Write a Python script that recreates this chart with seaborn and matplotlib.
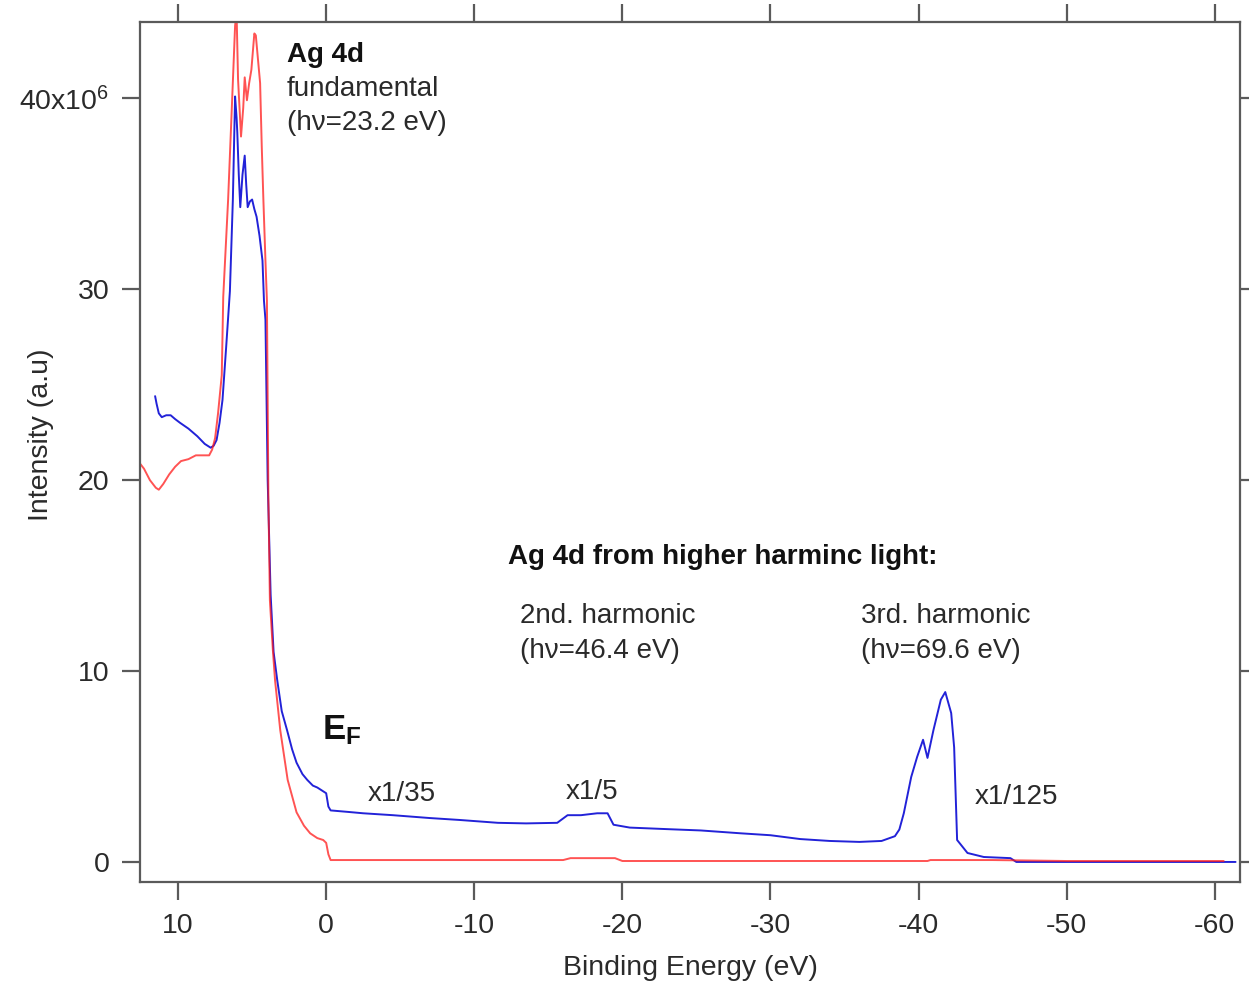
import numpy as np
import pandas as pd
import matplotlib
matplotlib.use("Agg")
import matplotlib.pyplot as plt
import seaborn as sns
from matplotlib.ticker import FixedLocator, FuncFormatter

# ---------------- data ----------------
red_x = [12.6, 12.3, 11.9, 11.5, 11.3, 11.0, 10.6, 10.2, 9.8, 9.3, 8.8, 8.3, 7.9, 7.7,
         7.5, 7.3, 7.05, 6.95, 6.62, 6.35, 6.15, 6.05, 5.95, 5.75, 5.6, 5.5, 5.35, 5.2,
         5.05, 4.85, 4.75, 4.6, 4.46, 4.35, 4.24, 4.1, 4.0, 3.9, 3.8, 3.6, 3.45, 3.1,
         2.6, 2.0, 1.5, 1.08, 0.6, 0.2, 0.0, -0.15, -0.3, -5.0, -10.0, -16.0, -16.5,
         -19.5, -20.0, -25.0, -30.0, -35.0, -40.6, -40.8, -45.0, -50.0, -55.0, -60.6]
red_y = [20.9, 20.6, 20.0, 19.6, 19.5, 19.8, 20.3, 20.7, 21.0, 21.1, 21.3, 21.3, 21.3, 21.6,
         22.2, 23.5, 25.5, 29.6, 34.7, 39.9, 43.8, 44.5, 41.0, 38.0, 39.5, 41.1, 39.9, 40.8,
         41.5, 43.4, 43.3, 42.0, 40.8, 37.5, 34.7, 31.5, 29.4, 19.0, 13.7, 11.1, 9.5, 6.9,
         4.3, 2.6, 1.9, 1.5, 1.25, 1.15, 1.0, 0.4, 0.1, 0.1, 0.1, 0.1, 0.2,
         0.2, 0.05, 0.05, 0.05, 0.05, 0.05, 0.1, 0.1, 0.05, 0.05, 0.05]

blue_x = [11.55, 11.45, 11.3, 11.1, 10.8, 10.5, 10.2, 9.86, 9.3, 8.7, 8.2, 7.8, 7.6, 7.4,
          7.2, 7.0, 6.75, 6.5, 6.3, 6.15, 6.05, 6.0, 5.9, 5.8, 5.65, 5.5, 5.4, 5.3, 5.15,
          5.0, 4.85, 4.7, 4.5, 4.3, 4.2, 4.1, 3.95, 3.75, 3.55, 3.3, 3.0, 2.64, 2.3, 2.0,
          1.6, 1.28, 0.9, 0.6, 0.2, 0.0, -0.15, -0.3, -1.5, -2.5, -4.5, -7.0, -9.0, -11.6,
          -13.5, -15.6, -16.3, -17.2, -18.3, -19.0, -19.4, -20.5, -23.0, -25.3, -28.0,
          -30.0, -32.0, -34.0, -36.0, -37.5, -38.4, -38.7, -39.0, -39.5, -39.9, -40.3,
          -40.6, -41.0, -41.5, -41.8, -42.2, -42.4, -42.6, -43.3, -44.4, -46.2, -46.6, -61.4]
blue_y = [24.4, 24.0, 23.5, 23.3, 23.4, 23.4, 23.2, 23.0, 22.7, 22.3, 21.9, 21.7, 21.8, 22.1,
          23.0, 24.2, 27.0, 29.9, 34.7, 40.1, 39.0, 38.2, 36.0, 34.3, 36.0, 37.0, 35.5, 34.3, 34.6,
          34.7, 34.2, 33.8, 32.8, 31.5, 29.4, 28.4, 20.0, 14.0, 11.0, 9.5, 7.9, 6.9, 5.9, 5.2,
          4.6, 4.3, 4.0, 3.9, 3.7, 3.6, 2.9, 2.7, 2.62, 2.55, 2.45, 2.3, 2.2, 2.05,
          2.02, 2.05, 2.45, 2.45, 2.55, 2.55, 1.95, 1.8, 1.72, 1.65, 1.5,
          1.4, 1.2, 1.1, 1.05, 1.1, 1.35, 1.7, 2.55, 4.45, 5.5, 6.4,
          5.45, 6.9, 8.5, 8.9, 7.8, 6.0, 1.15, 0.47, 0.26, 0.2, 0.0, 0.0]

x_ticks = [10, 0, -10, -20, -30, -40, -50, -60]
y_ticks = [0, 10, 20, 30, 40]
y_tick_labels = ["0", "10", "20", "30", r"40x10$^6$"]

# ---------------- style ----------------
sns.set_theme(style="white")
plt.rcParams["font.family"] = ["Liberation Sans", "DejaVu Sans"]
plt.rcParams["mathtext.fontset"] = "custom"
plt.rcParams["mathtext.rm"] = "Liberation Sans"
plt.rcParams["mathtext.bf"] = "Liberation Sans:bold"
plt.rcParams["mathtext.it"] = "Liberation Sans:italic"

frame_col = "#5a5a5a"
text_col = "#2a2a2a"

fig = plt.figure(figsize=(12.49, 9.88), dpi=100)
ax = fig.add_axes([140 / 1249, 1 - 882 / 988, 1100 / 1249, 860 / 988])

df_blue = pd.DataFrame({"x": blue_x, "y": blue_y})
df_red = pd.DataFrame({"x": red_x, "y": red_y})
sns.lineplot(data=df_blue, x="x", y="y", sort=False, estimator=None, ax=ax,
             color="#2222d8", linewidth=1.4)
sns.lineplot(data=df_red, x="x", y="y", sort=False, estimator=None, ax=ax,
             color="#ff1a1a", linewidth=1.4, alpha=0.75)

ax.set_xlim(12.57, -61.7)
ax.set_ylim(-1.05, 44.0)

for s in ax.spines.values():
    s.set_color(frame_col)
    s.set_linewidth(1.6)

ax.xaxis.set_major_locator(FixedLocator(x_ticks))
ax.yaxis.set_major_locator(FixedLocator(y_ticks))
ax.yaxis.set_major_formatter(FuncFormatter(lambda v, p: y_tick_labels[y_ticks.index(int(round(v)))]
                                           if int(round(v)) in y_ticks else ""))
ax.xaxis.set_major_formatter(FuncFormatter(lambda v, p: f"{int(round(v))}"))
ax.tick_params(axis="both", which="major", direction="out", length=13, width=1.6,
               color=frame_col, labelsize=20.5, labelcolor=text_col,
               top=True, right=True, bottom=True, left=True,
               labeltop=False, labelright=False)
ax.tick_params(axis="x", pad=9)
ax.tick_params(axis="y", pad=9)

ax.set_xlabel("Binding Energy (eV)", fontsize=20.5, color=text_col)
ax.set_ylabel("Intensity (a.u)", fontsize=20.5, color=text_col)
ax.xaxis.set_label_coords(0.5, -0.085)
ax.yaxis.set_label_coords(-0.078, 0.52)

# ---------------- annotations ----------------
fs = 20
ax.text(2.64, 42.25, "Ag 4d", fontsize=fs, fontweight="bold", color="#111111", ha="left", va="center")
ax.text(2.64, 40.5, "fundamental", fontsize=fs, color=text_col, ha="left", va="center")
ax.text(2.64, 38.7, "(hν=23.2 eV)", fontsize=fs, color=text_col, ha="left", va="center")

ax.text(-12.3, 16.0, "Ag 4d from higher harminc light:", fontsize=fs, fontweight="bold",
        color="#111111", ha="left", va="center")
ax.text(-13.1, 12.9, "2nd. harmonic", fontsize=fs, color=text_col, ha="left", va="center")
ax.text(-13.1, 11.05, "(hν=46.4 eV)", fontsize=fs, color=text_col, ha="left", va="center")
ax.text(-36.1, 12.9, "3rd. harmonic", fontsize=fs, color=text_col, ha="left", va="center")
ax.text(-36.1, 11.05, "(hν=69.6 eV)", fontsize=fs, color=text_col, ha="left", va="center")

ax.text(0.27, 6.9, r"$\mathbf{E}_{\mathbf{F}}$", fontsize=25, color="#111111", ha="left", va="center")

ax.text(-2.77, 3.56, "x1/35", fontsize=fs, color=text_col, ha="left", va="center")
ax.text(-16.2, 3.66, "x1/5", fontsize=fs, color=text_col, ha="left", va="center")
ax.text(-43.8, 3.4, "x1/125", fontsize=fs, color=text_col, ha="left", va="center")

fig.savefig("out.png", dpi=100, facecolor="white")
